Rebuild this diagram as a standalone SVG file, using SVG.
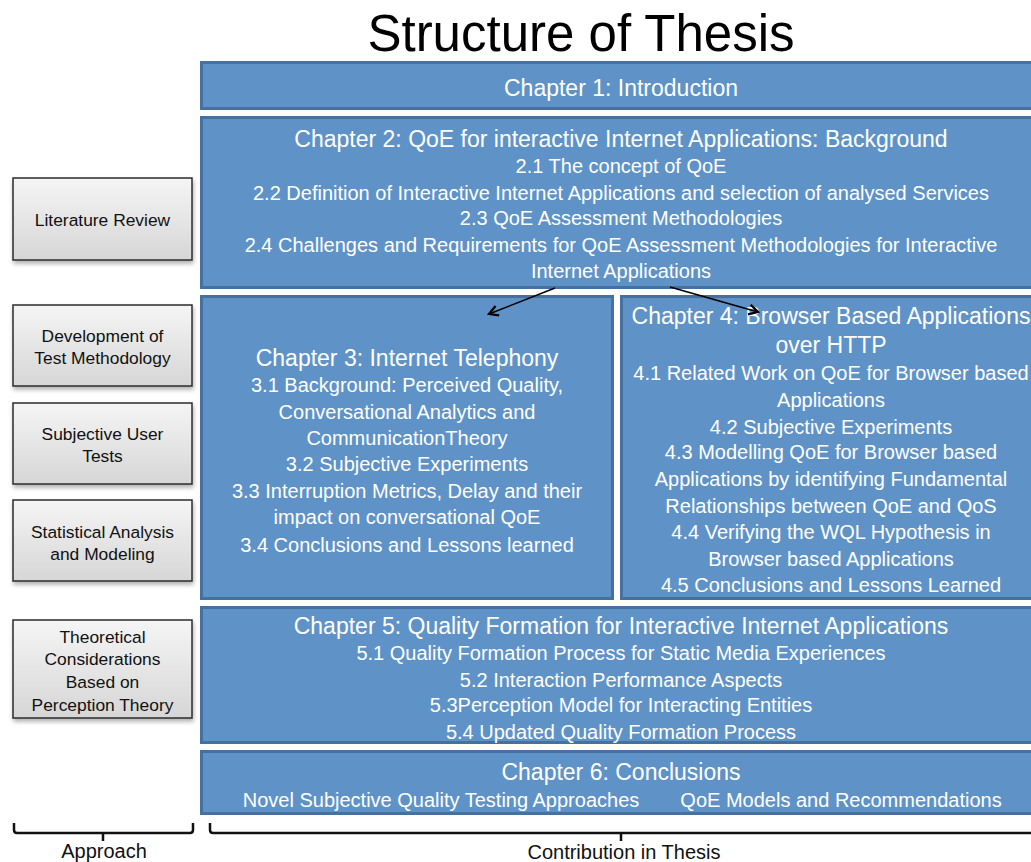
<svg xmlns="http://www.w3.org/2000/svg" width="1031" height="862" viewBox="0 0 1031 862">
<defs>
<linearGradient id="gray" x1="0" y1="0" x2="0" y2="1">
<stop offset="0" stop-color="#f5f5f5"/>
<stop offset="1" stop-color="#d6d6d6"/>
</linearGradient>
<filter id="sh" x="-10%" y="-10%" width="125%" height="130%">
<feDropShadow dx="1" dy="3" stdDeviation="2" flood-color="#000" flood-opacity="0.3"/>
</filter>
<marker id="ah" viewBox="0 0 12 12" refX="10" refY="6" markerWidth="12" markerHeight="12" markerUnits="userSpaceOnUse" orient="auto">
<path d="M1,1 L10,6 L1,11" fill="none" stroke="#000" stroke-width="2.2"/>
</marker>
<style>
.blue{fill:#5f93c7;stroke:#44719f;stroke-width:3}
.grayb{fill:url(#gray);stroke:#2b2b2b;stroke-width:1.5;filter:url(#sh)}
.t{font-family:"Liberation Sans",Arial,sans-serif;fill:#fff;text-anchor:middle}
.h{font-size:23px}
.b{font-size:20px}
.g{font-family:"Liberation Sans",Arial,sans-serif;fill:#111;text-anchor:middle;font-size:17.4px}
.lbl{font-family:"Liberation Sans",Arial,sans-serif;fill:#111;text-anchor:middle;font-size:20px}
.br{fill:none;stroke:#111;stroke-width:2.5}
</style>
</defs>
<rect width="1031" height="862" fill="#fff"/>
<text x="581" y="51" font-family="Liberation Sans,Arial,sans-serif" font-size="51" text-anchor="middle" fill="#000">Structure of Thesis</text>

<g id="ch1">
<rect class="blue" x="201.5" y="62.5" width="840" height="46"/>
<text class="t h" x="621" y="96">Chapter 1: Introduction</text>
</g>

<g id="ch2">
<rect class="blue" x="201.5" y="117.5" width="840" height="170"/>
<text class="t h" x="621" y="147">Chapter 2: QoE for interactive Internet Applications: Background</text>
<text class="t b" x="621" y="173">2.1 The concept of QoE</text>
<text class="t b" x="621" y="200">2.2 Definition of Interactive Internet Applications and selection of analysed Services</text>
<text class="t b" x="621" y="225">2.3 QoE Assessment Methodologies</text>
<text class="t b" x="621" y="252">2.4 Challenges and Requirements for QoE Assessment Methodologies for Interactive</text>
<text class="t b" x="621" y="278">Internet Applications</text>
</g>

<g id="ch3">
<rect class="blue" x="201.5" y="296.5" width="411" height="302"/>
<text class="t h" x="407" y="366">Chapter 3: Internet Telephony</text>
<text class="t b" x="407" y="392">3.1 Background: Perceived Quality,</text>
<text class="t b" x="407" y="419">Conversational Analytics and</text>
<text class="t b" x="407" y="445">CommunicationTheory</text>
<text class="t b" x="407" y="471">3.2 Subjective Experiments</text>
<text class="t b" x="407" y="498">3.3 Interruption Metrics, Delay and their</text>
<text class="t b" x="407" y="524">impact on conversational QoE</text>
<text class="t b" x="407" y="552">3.4 Conclusions and Lessons learned</text>
</g>

<g id="ch4">
<rect class="blue" x="621.5" y="296.5" width="420" height="302"/>
<text class="t h" x="831" y="324">Chapter 4: Browser Based Applications</text>
<text class="t h" x="831" y="353">over HTTP</text>
<text class="t b" x="831" y="380">4.1 Related Work on QoE for Browser based</text>
<text class="t b" x="831" y="407">Applications</text>
<text class="t b" x="831" y="434">4.2 Subjective Experiments</text>
<text class="t b" x="831" y="459">4.3 Modelling QoE for Browser based</text>
<text class="t b" x="831" y="486">Applications by identifying Fundamental</text>
<text class="t b" x="831" y="513">Relationships between QoE and QoS</text>
<text class="t b" x="831" y="539">4.4 Verifying the WQL Hypothesis in</text>
<text class="t b" x="831" y="566">Browser based Applications</text>
<text class="t b" x="831" y="592">4.5 Conclusions and Lessons Learned</text>
</g>

<g id="ch5">
<rect class="blue" x="201.5" y="607.5" width="840" height="135"/>
<text class="t h" x="621" y="634">Chapter 5: Quality Formation for Interactive Internet Applications</text>
<text class="t b" x="621" y="660">5.1 Quality Formation Process for Static Media Experiences</text>
<text class="t b" x="621" y="687">5.2 Interaction Performance Aspects</text>
<text class="t b" x="621" y="712">5.3Perception Model for Interacting Entities</text>
<text class="t b" x="621" y="739">5.4 Updated Quality Formation Process</text>
</g>

<g id="ch6">
<rect class="blue" x="201.5" y="751.5" width="840" height="62"/>
<text class="t h" x="621" y="780">Chapter 6: Conclusions</text>
<text class="t b" x="441" y="807">Novel Subjective Quality Testing Approaches</text>
<text class="t b" x="841" y="807">QoE Models and Recommendations</text>
</g>

<g id="lit">
<rect class="grayb" x="13" y="178" width="179" height="82"/>
<text class="g" x="102.5" y="226">Literature Review</text>
</g>
<g id="dev">
<rect class="grayb" x="13" y="305" width="179" height="81"/>
<text class="g" x="102.5" y="342">Development of</text>
<text class="g" x="102.5" y="364">Test Methodology</text>
</g>
<g id="subj">
<rect class="grayb" x="13" y="403" width="179" height="81"/>
<text class="g" x="102.5" y="440">Subjective User</text>
<text class="g" x="102.5" y="462">Tests</text>
</g>
<g id="stat">
<rect class="grayb" x="13" y="500" width="179" height="81"/>
<text class="g" x="102.5" y="538">Statistical Analysis</text>
<text class="g" x="102.5" y="560">and Modeling</text>
</g>
<g id="theo">
<rect class="grayb" x="13" y="620" width="179" height="98"/>
<text class="g" x="102.5" y="643">Theoretical</text>
<text class="g" x="102.5" y="665">Considerations</text>
<text class="g" x="102.5" y="688">Based on</text>
<text class="g" x="102.5" y="711">Perception Theory</text>
</g>

<g id="connectors">
<line x1="555" y1="288" x2="489" y2="314" stroke="#000" stroke-width="1.5" marker-end="url(#ah)"/>
<line x1="670" y1="287" x2="758" y2="312" stroke="#000" stroke-width="1.5" marker-end="url(#ah)"/>
</g>

<g id="braces">
<path class="br" d="M14,823 V830 Q14,833 17,833 H190 Q193,833 193,830 V823 M103,833 V841"/>
<path class="br" d="M210,823 V830 Q210,833 213,833 H1031 M621,833 V841"/>
<text class="lbl" x="104" y="858">Approach</text>
<text class="lbl" x="624" y="859">Contribution in Thesis</text>
</g>
</svg>
